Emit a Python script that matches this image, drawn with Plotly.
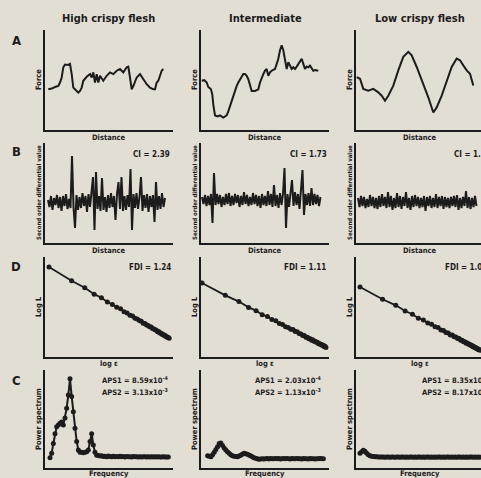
import numpy as np
import plotly.graph_objects as go

W, H = 481, 478
BG = "#e3ded4"
INK = "#1c1c1c"
FONT = "Liberation Sans Narrow, DejaVu Sans Condensed, Arial Narrow, sans-serif"

col_titles = ["High crispy flesh", "Intermediate", "Low crispy flesh"]
row_letters = ["A", "B", "D", "C"]
y_titles = ["Force", "Second order differential value", "Log L", "Power spectrum"]
x_titles = ["Distance", "Distance", "log \u03b5", "Frequency"]

# ---------------- Row A: force-distance curves ----------------
dist_a1 = [3.3, 6.7, 10, 13.3, 15, 16.7, 18.3, 20, 23.3, 25, 26.7, 28.3, 30, 33.3, 35, 36.7, 38.3,
           41.7, 45, 46.7, 48.3, 50, 51.7, 53.3, 55, 58.3, 61.7, 65, 68.3, 71.7, 75, 78.3, 81.7,
           83.3, 85, 86.7, 88.3, 91.7, 95, 98.3, 101.7, 105, 108.3, 110, 111.7, 113.3, 115, 116.7, 118.3]
force_a1 = [40.7, 41.4, 43, 44, 47.5, 52.5, 62.7, 65.4, 65.1, 66.1, 55.9, 42.4, 40.7, 37.3, 39, 42.4,
            49.2, 53.2, 55.9, 52.5, 57.6, 47.5, 55.9, 47.5, 54.2, 49.2, 54.2, 57.6, 55.9, 59.3, 61,
            57.6, 62.7, 63.4, 52.5, 40.7, 44, 52.5, 55.9, 50.8, 45.8, 42.4, 40.7, 40.7, 47.5, 49.2,
            54.2, 59.3, 61]
dist_a2 = [0.7, 3.3, 5.7, 7.3, 10, 11.3, 12.3, 14, 16.7, 19, 22.3, 25.7, 27.3, 29, 30.7, 32.3, 34,
           35.7, 37.3, 40.7, 42.3, 44, 45.7, 47.3, 49, 50.7, 54, 57.3, 59, 60.7, 62.3, 64, 65.7, 67.3,
           69, 70.7, 74, 75.7, 77.3, 79, 80.7, 82.3, 84, 85.7, 87.3, 89, 90.7, 92.3, 94, 95.7, 97.3,
           99, 100.7, 102.3, 104, 105.7, 107.3, 109, 110.7, 112.3, 114, 117.3]
force_a2 = [49.2, 49.8, 47.5, 43, 40.7, 35.6, 25.4, 14.6, 13.6, 14.6, 12.5, 14.6, 18.6, 23.7, 30.5,
            35.6, 40.7, 44.1, 47.5, 52.5, 55.9, 55.9, 54.2, 50.8, 44.1, 39, 39, 40.7, 47.5, 52.5,
            55.9, 59.3, 61, 54.2, 57.6, 59.3, 61, 66.1, 71.2, 79.7, 84.7, 79.7, 69.5, 61, 67.8, 64.4,
            61, 62.7, 61, 63.4, 66.1, 67.8, 71.2, 66.1, 61, 63.4, 62.7, 64.4, 61, 59.3, 60, 59.3]
dist_a3 = [0.7, 4, 7.3, 12.3, 17.3, 22.3, 25.7, 29, 32.3, 37.3, 42.3, 47.3, 52.3, 55.7, 60.7, 67.3,
           72.3, 77.3, 80.7, 85.7, 90.7, 95.7, 100.7, 104, 107.3, 110.7, 114, 117.3]
force_a3 = [52.9, 51.2, 41.1, 39.4, 41.1, 37.7, 34.3, 29.3, 34.3, 44.4, 59.6, 73.1, 78.1, 74.7, 63,
            46.1, 32.7, 17.5, 22.6, 34.3, 49.5, 63, 71.4, 69.7, 64.6, 59.6, 56.2, 44.4]

# ---------------- Row B: second order differential ----------------
sample_step = 1.5
start_b = [3, 1, 2]
diff_b1 = [2, -5, 6, -8, 4, -3, 7, -6, 5, -9,
           6, -4, 8, -7, 3, -6, 46, -5, -26, 7,
           -8, 5, -6, 9, -4, 6, -10, 8, -5, 7,
           25, -28, 30, -7, 6, -9, 24, -8, 5, -10,
           7, -6, 9, -5, 6, -18, 8, 20, -7, 25,
           -9, 6, -8, 7, -5, 33, -28, 8, -6, 9,
           -7, 5, 25, -9, 7, -6, 8, -10, 6, -5,
           7, -20, 20, -8, 6, -7, 9, -5, 4]
diff_b2 = [3, -4, 5, -6, 4, -5, 6, -23, 27, -5,
           6, -4, 5, -7, 3, -5, 6, -4, 7, -6,
           4, -5, 6, -3, 5, -7, 4, -5, 8, -4,
           5, -6, 3, -5, 7, -4, 5, -6, 4, -8,
           6, -5, 4, -6, 9, -5, 6, -7, 15, -6,
           5, -8, 7, -5, 6, 32, -28, 6, -7, 5,
           20, -6, 8, -5, 6, -9, 7, 30, -15, 6,
           -5, 7, -6, 12, -5, 6, -4, 5, -6, 3]
diff_b3 = [4, -5, 6, -4, 5, -6, 3, -5, 7, -4,
           5, -6, 4, -7, 6, -5, 8, -4, 5, -6,
           10, -5, 6, -8, 4, -6, 9, -5, 6, -7,
           5, -4, 10, -6, 4, -8, 6, -5, 7, -4,
           5, -6, 4, -5, 6, -9, 5, -4, 6, -6,
           4, -5, 8, -6, 5, -4, 6, -7, 5, -5,
           4, -6, 5, -4, 6, -5, 7, -8, 4, -6,
           5, -4, 11, -6, 5, -7, 4, -5, 6, -4]

# ---------------- Row D: log L vs log eps ----------------
log_eps = [0, 0.301, 0.477, 0.602, 0.699, 0.778, 0.845, 0.903, 0.954, 1.0, 1.041, 1.079, 1.114,
           1.146, 1.176, 1.204, 1.23, 1.255, 1.279, 1.301, 1.322, 1.342, 1.362, 1.38, 1.398, 1.415,
           1.431, 1.447, 1.462, 1.477, 1.491, 1.505, 1.519, 1.531, 1.544, 1.556, 1.568, 1.58, 1.591, 1.602]
logL_d1 = [2.000, 1.925, 1.888, 1.853, 1.834, 1.811, 1.797, 1.782, 1.774, 1.758, 1.751, 1.739,
           1.735, 1.722, 1.718, 1.710, 1.706, 1.696, 1.694, 1.686, 1.684, 1.676, 1.675, 1.667,
           1.665, 1.660, 1.658, 1.650, 1.651, 1.643, 1.643, 1.636, 1.636, 1.631, 1.631, 1.624,
           1.624, 1.619, 1.619, 1.614]
logL_d2 = [1.500, 1.466, 1.449, 1.433, 1.424, 1.413, 1.408, 1.400, 1.396, 1.389, 1.386, 1.380,
           1.378, 1.373, 1.372, 1.367, 1.366, 1.361, 1.360, 1.356, 1.356, 1.351, 1.351, 1.347,
           1.347, 1.343, 1.344, 1.340, 1.340, 1.337, 1.337, 1.333, 1.334, 1.331, 1.331, 1.328,
           1.329, 1.325, 1.326, 1.323]
logL_d3 = [1.2000, 1.1938, 1.1907, 1.1878, 1.1862, 1.1842, 1.1833, 1.1817, 1.1811, 1.1798,
           1.1794, 1.1782, 1.1779, 1.1769, 1.1767, 1.1757, 1.1756, 1.1747, 1.1746, 1.1738,
           1.1738, 1.1730, 1.1730, 1.1722, 1.1722, 1.1715, 1.1716, 1.1709, 1.1710, 1.1703,
           1.1704, 1.1697, 1.1698, 1.1692, 1.1693, 1.1687, 1.1688, 1.1682, 1.1683, 1.1679]

# ---------------- Row C: power spectrum ----------------
power_c1 = [10.5, 15, 25, 35, 42, 44, 45.6, 47, 44, 51,
            61, 74.5, 91, 73, 57.5, 40.5, 27, 18.4, 16, 16,
            15.5, 16, 16.5, 18.4, 27, 35, 23.5, 16, 13, 12.8,
            12.2, 12.5, 11.8, 12, 11.5, 12.2, 11.8, 11.5, 12, 11.6,
            11.8, 11.4, 11.9, 11.5, 11.7, 11.3, 11.8, 11.5, 11.6, 11.2,
            11.7, 11.4, 11.5, 11.3, 11.6, 11.2, 11.5, 11.4, 11.3, 11.5,
            11.2, 11.4, 11.3, 11.5, 11.2, 11.4, 11.3, 11.2, 11.4, 11.3, 11.2, 11.3]
power_c2 = [12.6, 12, 11.5, 13.5, 16, 19, 21.8, 25, 25.5, 23,
            20.5, 18.4, 16.5, 15, 13.5, 12.6, 12, 11.8, 11.5, 12.2,
            13, 14, 15, 14.5, 14, 13.3, 12.6, 11.5, 10.5, 10,
            9.5, 9, 9.3, 9.5, 9.2, 9.5,
            9.6, 9.3, 9.7, 9.4, 9.5, 9.8, 9.4, 9.6, 9.3, 9.5,
            9.7, 9.4, 9.6, 9.5, 9.3, 9.6, 9.4, 9.5, 9.7, 9.4,
            9.5, 9.3, 9.6, 9.4, 9.5, 9.3, 9.6, 9.4, 9.5, 9.3,
            9.5, 9.4, 9.6, 9.4, 9.5]
power_c3 = [15, 16.5, 18, 17, 15, 13.5, 12.5, 12, 11.8, 11.5,
            11.4, 11.2, 11.3, 11.1, 11.2, 11.0, 11.2, 11.1, 11.0, 11.2,
            11.1, 11.0, 11.2, 11.1, 11.0, 11.1, 11.2, 11.0, 11.1, 11.0,
            11.2, 11.1, 11.0, 11.1, 11.0, 11.2, 11.1, 11.0, 11.1, 11.0,
            11.1, 11.2, 11.0, 11.1, 11.0, 11.1, 11.0, 11.2, 11.1, 11.0,
            11.1, 11.0, 11.1, 11.2, 11.0, 11.1, 11.0, 11.1, 11.0, 11.1,
            11.2, 11.0, 11.1, 11.0, 11.1, 11.0, 11.1, 11.2, 11.0, 11.1, 11.0, 11.1, 11.0]

ci_labels = ["CI = 2.39", "CI = 1.73", "CI = 1.12"]
fdi_labels = ["FDI = 1.24", "FDI = 1.11", "FDI = 1.02"]
aps1_labels = ["APS1 = 8.59x10<sup>-4</sup>", "APS1 = 2.03x10<sup>-4</sup>", "APS1 = 8.35x10<sup>-5</sup>"]
aps2_labels = ["APS2 = 3.13x10<sup>-3</sup>", "APS2 = 1.13x10<sup>-3</sup>", "APS2 = 8.17x10<sup>-4</sup>"]

# ---------------- layout geometry (pixels) ----------------
col_px = [(45, 173), (201, 329), (356, 481)]
row_px = [(30, 130), (143, 243), (257, 357), (370, 468)]

x_ranges = [
    [[0, 128], [0, 128], [0, 125]],
    [[0, 128], [0, 128], [0, 125]],
    [[-0.0533, 1.653], [-0.013, 1.641], [-0.0533, 1.6133]],
    [[-3, 73.8], [-4, 73.4], [-2.4, 72.6]],
]
y_ranges = [
    [[0, 100], [0, 100], [0, 100]],
    [[-41, 59], [-43, 57], [-41, 59]],
    [[1.513, 2.054], [1.2967, 1.5714], [1.16447, 1.21523]],
    [[0, 100], [0, 100], [0, 100]],
]


def fx(p):
    return p / W


def fy(p):
    return 1 - p / H


fig = go.Figure()
layout = {}

series = [
    [(dist_a1, force_a1), (dist_a2, force_a2), (dist_a3, force_a3)],
    [(np.arange(len(d)) * sample_step + s, d) for d, s in zip([diff_b1, diff_b2, diff_b3], start_b)],
    [(log_eps, logL_d1), (log_eps, logL_d2), (log_eps, logL_d3)],
    [(np.arange(len(p)), p) for p in [power_c1, power_c2, power_c3]],
]

for r in range(4):
    for c in range(3):
        n = r * 3 + c + 1
        sfx = "" if n == 1 else str(n)
        xs, ys = series[r][c]
        if r == 0:
            tr = dict(mode="lines", line=dict(color=INK, width=2))
        elif r == 1:
            tr = dict(mode="lines", line=dict(color=INK, width=2))
        elif r == 2:
            tr = dict(mode="lines+markers", line=dict(color=INK, width=1.8),
                      marker=dict(color=INK, size=5))
        else:
            tr = dict(mode="lines+markers", line=dict(color=INK, width=2),
                      marker=dict(color=INK, size=5))
        fig.add_trace(go.Scatter(x=list(xs), y=list(ys), xaxis="x" + sfx, yaxis="y" + sfx,
                                 showlegend=False, hoverinfo="skip", cliponaxis=True, **tr))
        ax = dict(showline=True, linecolor=INK, linewidth=1.8, showgrid=False, zeroline=False,
                  showticklabels=False, ticks="", fixedrange=True)
        layout["xaxis" + sfx] = dict(ax, domain=[fx(col_px[c][0]), min(1, fx(col_px[c][1]))],
                                     range=x_ranges[r][c], anchor="y" + sfx)
        layout["yaxis" + sfx] = dict(ax, domain=[fy(row_px[r][1]), fy(row_px[r][0])],
                                     range=y_ranges[r][c], anchor="x" + sfx)

ann = []


def add(text, x, y, size=8, xanchor="center", angle=0, yanchor="middle"):
    ann.append(dict(text=text, x=fx(x), y=fy(y), xref="paper", yref="paper", showarrow=False,
                    xanchor=xanchor, yanchor=yanchor, textangle=angle,
                    font=dict(family=FONT, size=size, color=INK)))


for c, t in enumerate(col_titles):
    add("<b>%s</b>" % t, [108, 265, 420][c], 18, size=11)
for r, L in enumerate(row_letters):
    add("<b>%s</b>" % L, 16, [40, 152, 266, 380][r], size=13)

ytitle_x = [38, 194, 349]
xcenters = [109, 265, 420]
xtitle_y = [137, 250, 363, 473]
for r in range(4):
    yc = (row_px[r][0] + row_px[r][1]) / 2
    for c in range(3):
        add("<b>%s</b>" % y_titles[r], ytitle_x[c], yc, size=6 if r == 1 else 7.5, angle=-90)
        add("<b>%s</b>" % x_titles[r], xcenters[c], xtitle_y[r], size=7.5)

for c in range(3):
    if c < 2:
        add("<b>%s</b>" % ci_labels[c], [172, 329][c], 154, size=8, xanchor="right")
        add("<b>%s</b>" % fdi_labels[c], [173, 328][c], 267, size=8, xanchor="right")
        add("<b>%s</b>" % aps1_labels[c], [170, 323][c], 380, size=7.5, xanchor="right")
        add("<b>%s</b>" % aps2_labels[c], [170, 323][c], 392, size=7.5, xanchor="right")
    else:
        add("<b>%s</b>" % ci_labels[c], 452, 154, size=8, xanchor="left")
        add("<b>%s</b>" % fdi_labels[c], 443, 267, size=8, xanchor="left")
        add("<b>%s</b>" % aps1_labels[c], 420, 380, size=7.5, xanchor="left")
        add("<b>%s</b>" % aps2_labels[c], 420, 392, size=7.5, xanchor="left")

fig.update_layout(width=W, height=H, margin=dict(l=0, r=0, t=0, b=0),
                  paper_bgcolor=BG, plot_bgcolor=BG, annotations=ann, **layout)
fig.write_html("out.html", config=dict(displayModeBar=False),
               post_script="document.body.style.margin='0';document.body.style.overflow='hidden';")
